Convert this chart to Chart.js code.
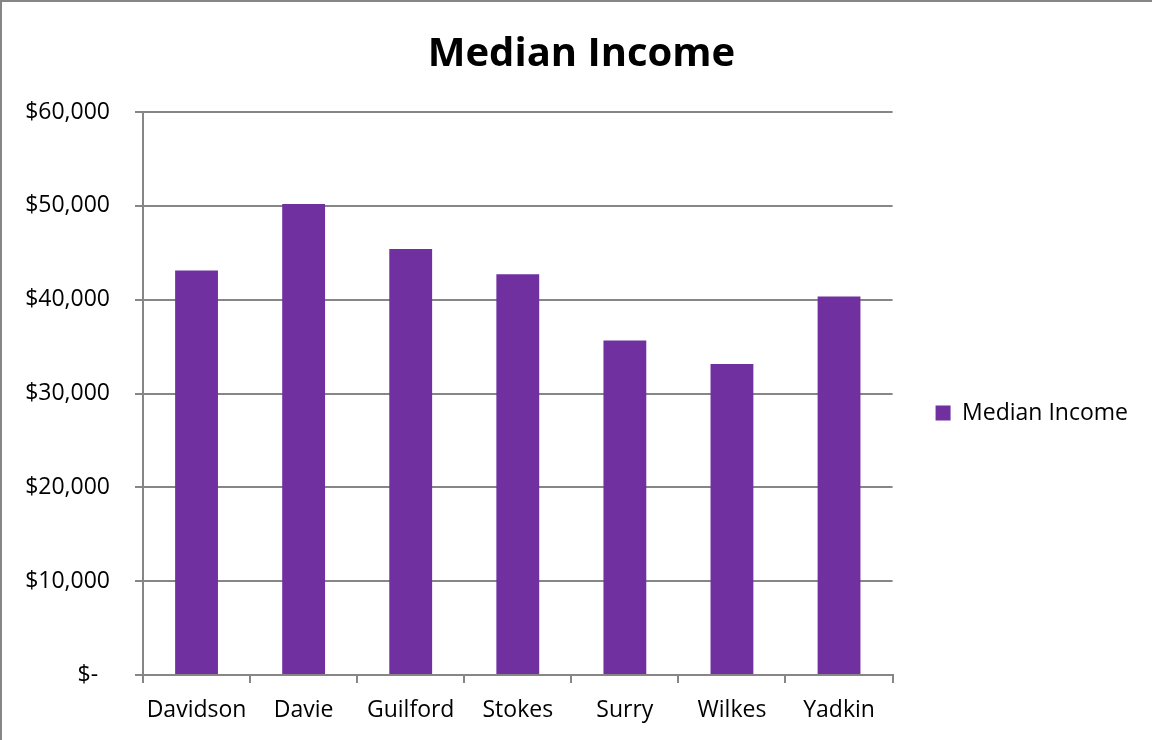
<!DOCTYPE html>
<html>
<head>
<meta charset="utf-8">
<title>Median Income</title>
<script src="https://cdn.jsdelivr.net/npm/chart.js@4.4.1/dist/chart.umd.min.js"></script>
<style>
  html, body { margin: 0; padding: 0; background: #fff; }
  #frame {
    position: absolute; left: 0; top: 0;
    width: 1152px; height: 740px; box-sizing: border-box;
    border-left: 2px solid #868686; border-top: 2px solid #868686;
  }
  #wrap { position: relative; width: 1150px; height: 738px; }
</style>
</head>
<body>
<div id="frame">
  <div id="wrap"><canvas id="incomeChart"></canvas></div>
</div>
<script>
// data
const counties = ['Davidson', 'Davie', 'Guilford', 'Stokes', 'Surry', 'Wilkes', 'Yadkin'];
const medianIncome = [43100, 50200, 45400, 42700, 35650, 33150, 40350];
const yTickLabels = ['$-  ', '$10,000', '$20,000', '$30,000', '$40,000', '$50,000', '$60,000'];

const BAR_COLOR = '#7030A0';
const LINE_COLOR = '#868686';
const FONT = 'Open Sans';

Chart.defaults.color = '#000';
Chart.defaults.font.family = FONT;

// legend sits a bit below the middle of the canvas in the original
const legendShift = {
  id: 'legendShift',
  afterLayout: (chart) => {
    if (chart.legend) chart.legend.top += 94;
  }
};

const ctx = document.getElementById('incomeChart').getContext('2d');

const incomeChart = new Chart(ctx, {
  type: 'bar',
  data: {
    labels: counties,
    datasets: [{
      label: 'Median Income',
      data: medianIncome,
      backgroundColor: BAR_COLOR,
      borderWidth: 0,
      categoryPercentage: 1.0,
      barPercentage: 0.4
    }]
  },
  options: {
    responsive: true,
    maintainAspectRatio: false,
    animation: false,
    layout: { padding: { left: 23, right: 14, top: 0, bottom: 10 } },
    plugins: {
      title: {
        display: true,
        text: 'Median Income',
        color: '#000',
        font: { family: FONT, size: 40, weight: 'bold' },
        padding: { top: 29, bottom: 33 }
      },
      legend: {
        position: 'right',
        labels: {
          color: '#000',
          font: { family: FONT, size: 23 },
          boxWidth: 15,
          boxHeight: 15,
          padding: 43
        }
      },
      tooltip: { enabled: false }
    },
    scales: {
      x: {
        offset: true,
        grid: {
          offset: true,
          drawOnChartArea: false,
          drawTicks: true,
          tickLength: 8,
          color: LINE_COLOR,
          lineWidth: 2
        },
        border: { color: LINE_COLOR, width: 2 },
        ticks: { color: '#000', font: { family: FONT, size: 23 }, padding: 14, maxRotation: 0 },
        afterFit: (scale) => { scale.height = 55; }
      },
      y: {
        min: 0,
        max: 60000,
        grid: { color: LINE_COLOR, lineWidth: 2, tickLength: 8 },
        border: { color: LINE_COLOR, width: 2 },
        ticks: {
          stepSize: 10000,
          color: '#000',
          font: { family: FONT, size: 23 },
          padding: 25,
          callback: (value, index) => yTickLabels[index]
        },
        afterFit: (scale) => { scale.width = 118; }
      }
    }
  },
  plugins: [legendShift]
});
</script>
</body>
</html>
